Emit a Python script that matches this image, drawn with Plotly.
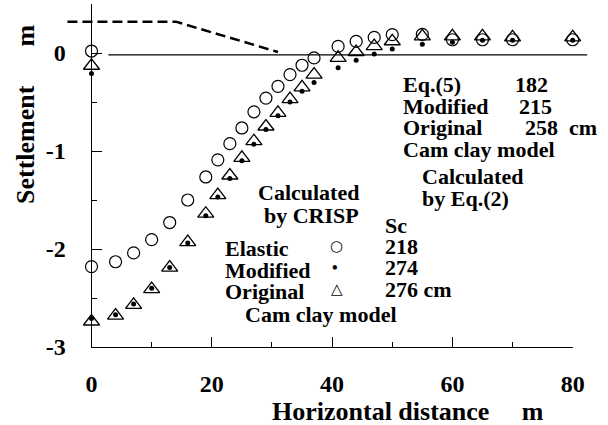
import plotly.graph_objects as go

# ---------------- data ----------------
dist = [0, 4, 7, 10, 13, 16, 19, 21, 23, 25, 27, 29, 31, 33, 35, 37,
        41, 44, 47, 50, 55, 60, 65, 70, 80, 0]
settle_elastic = [-2.18, -2.13, -2.04, -1.905, -1.73, -1.50, -1.265, -1.09, -0.925,
                  -0.765, -0.60, -0.46, -0.34, -0.22, -0.125, -0.05,
                  0.067, 0.118, 0.159, 0.187, 0.19, 0.135, 0.135, 0.135, 0.135, 0.02]
settle_modified = [-2.71, -2.67, -2.56, -2.40, -2.19, -1.94, -1.66, -1.47, -1.28,
                   -1.10, -0.93, -0.78, -0.64, -0.50, -0.39, -0.30,
                   -0.15, -0.075, -0.01, 0.04, 0.09, 0.11, 0.13, 0.13, 0.13, -0.21]
settle_original = [-2.74, -2.68, -2.57, -2.41, -2.19, -1.93, -1.64, -1.45, -1.25,
                   -1.07, -0.90, -0.75, -0.61, -0.47, -0.35, -0.22,
                   -0.05, 0.01, 0.07, 0.12, 0.17, 0.17, 0.17, 0.16, 0.16, -0.13]
embank_x = [-4, 14, 31]
embank_y = [0.32, 0.32, 0.01]
ground_x = [2.8, 82.4]
ground_y = [-0.02, -0.02]

x_tickvals = [0, 20, 40, 60, 80]
x_ticktext = ["0", "20", "40", "60", "80"]
x_minor = [10, 30, 50, 70]
y_tickvals = [-3, -2, -1, 0]
y_ticktext = ["-3", "-2", "-1", "0"]
y_minor = [-2.5, -1.5, -0.5, 0.5]
x_range = [0, 80]
y_range = [-3, 0.5]

# ---------------- layout geometry ----------------
W, H = 608, 425
ML, MR, MT, MB = 40, 10, 4, 78
PX_L, PX_R = 91.5, 572.7
pw = W - ML - MR
ph = H - MT - MB


def px(xp):
    return (xp - ML) / pw


def py(yp):
    return 1 - (yp - MT) / ph


d0, d1 = px(PX_L), px(PX_R)
span = (x_range[1] - x_range[0]) / (d1 - d0)
x2_range = [x_range[0] - d0 * span, x_range[1] + (1 - d1) * span]

SERIF = "Liberation Serif"
BLACK = "#000000"

fig = go.Figure()

fig.add_trace(go.Scatter(x=embank_x, y=embank_y, xaxis="x2", yaxis="y", mode="lines",
                         line=dict(color=BLACK, width=2.5, dash="10px,5px"),
                         showlegend=False, hoverinfo="skip"))
fig.add_trace(go.Scatter(x=ground_x, y=ground_y, xaxis="x2", yaxis="y", mode="lines",
                         line=dict(color=BLACK, width=1.3),
                         showlegend=False, hoverinfo="skip"))
fig.add_trace(go.Scatter(x=dist, y=settle_original, mode="markers", cliponaxis=False,
                         marker=dict(symbol="triangle-up-open", size=14, color=BLACK,
                                     line=dict(width=1.3, color=BLACK)),
                         showlegend=False))
fig.add_trace(go.Scatter(x=dist, y=settle_elastic, mode="markers", cliponaxis=False,
                         marker=dict(symbol="circle-open", size=12, color=BLACK,
                                     line=dict(width=1.2, color=BLACK)),
                         showlegend=False))
fig.add_trace(go.Scatter(x=dist, y=settle_modified, mode="markers", cliponaxis=False,
                         marker=dict(symbol="circle", size=5, color=BLACK),
                         showlegend=False))

annotations = []


def note(text, xp, yp, anchor="left", size=22, family=SERIF, angle=0):
    annotations.append(dict(text=text, x=px(xp), y=py(yp), xref="paper", yref="paper",
                            xanchor=anchor, yanchor="middle", showarrow=False,
                            textangle=angle,
                            font=dict(family=family, size=size, color=BLACK, weight="bold")))


NB = "\u00a0"
# right block
note("Eq.(5)", 401, 84)
note("182", 513, 84)
note("Modified", 401, 106)
note("215", 517, 106)
note("Original", 401, 127)
note("258" + NB * 2 + "cm", 523, 127)
note("Cam clay model", 401, 149)
note("Calculated", 472, 176, anchor="center")
note("by Eq.(2)", 465, 198, anchor="center")
# left block
note("Calculated", 308, 193, anchor="center")
note("by CRISP", 311, 215, anchor="center")
note("Sc", 383, 225)
note("Elastic", 223, 248)
note("Modified", 223, 270)
note("Original", 223, 291)
note("218", 383, 246)
note("274", 383, 267)
note("276 cm", 383, 289)
note("Cam clay model", 321, 314, anchor="center")
note("\u25cb", 336, 246, anchor="center", size=15, family="DejaVu Sans")
note("\u2022", 335, 267, anchor="center", size=16, family=SERIF)
note("\u25b3", 337, 289, anchor="center", size=15, family="DejaVu Sans")
# axis titles
note("Horizontal distance" + NB * 5 + "m", 408, 411, anchor="center", size=26)
note("Settlement" + NB * 6 + "m", 25, 115, anchor="center", size=26, angle=-90)

tickfont = dict(family=SERIF, size=24, color=BLACK, weight="bold")

fig.update_layout(
    width=W, height=H,
    margin=dict(l=ML, r=MR, t=MT, b=MB, pad=0),
    paper_bgcolor="white", plot_bgcolor="rgba(0,0,0,0)",
    showlegend=False,
    xaxis=dict(domain=[d0, d1], range=x_range, anchor="y", showline=True,
               linecolor=BLACK, linewidth=1, ticks="inside", ticklen=10, tickwidth=1,
               tickcolor=BLACK, tickmode="array", tickvals=x_tickvals, ticktext=x_ticktext,
               minor=dict(tickmode="array", tickvals=x_minor, ticks="inside", ticklen=5,
                          tickwidth=1, tickcolor=BLACK, showgrid=False),
               showgrid=False, zeroline=False, tickfont=tickfont, ticklabelstandoff=15,
               automargin=False),
    xaxis2=dict(domain=[0, 1], range=x2_range, anchor="y", visible=False,
                showgrid=False, zeroline=False),
    yaxis=dict(domain=[0, 1], range=y_range, anchor="x", showline=True,
               linecolor=BLACK, linewidth=1, ticks="inside", ticklen=10, tickwidth=1,
               tickcolor=BLACK, tickmode="array", tickvals=y_tickvals, ticktext=y_ticktext,
               minor=dict(tickmode="array", tickvals=y_minor, ticks="inside", ticklen=5,
                          tickwidth=1, tickcolor=BLACK, showgrid=False),
               showgrid=False, zeroline=False, tickfont=tickfont, ticklabelstandoff=20,
               automargin=False),
    annotations=annotations,
)

fig.write_html("out.html")
